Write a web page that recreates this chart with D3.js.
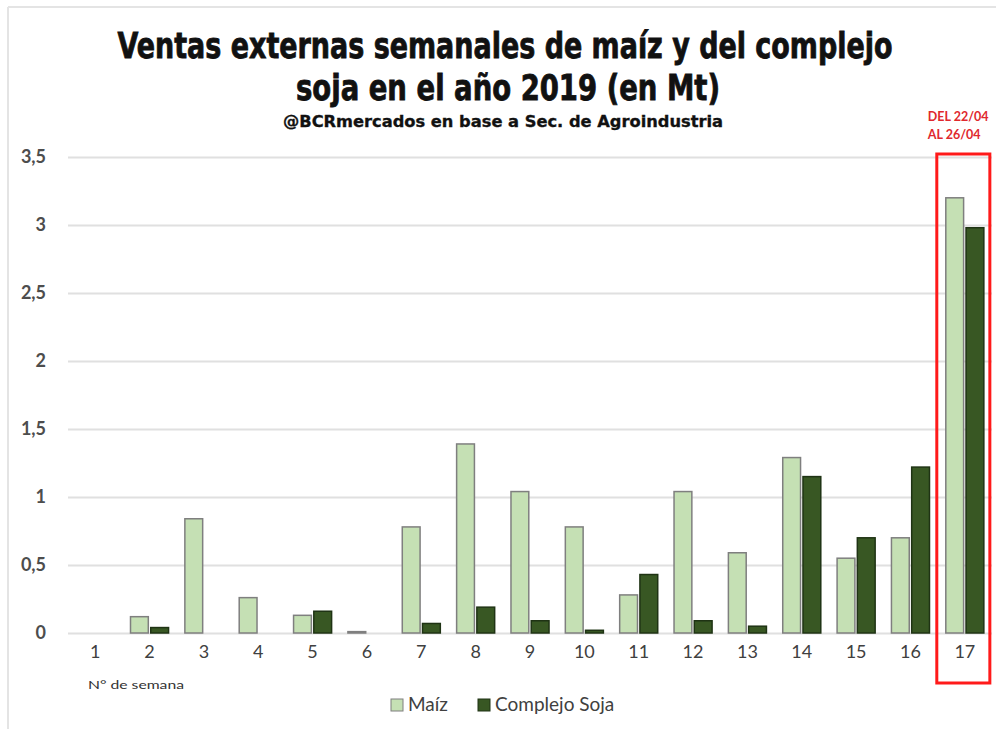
<!DOCTYPE html>
<html>
<head>
<meta charset="utf-8">
<script src="https://cdn.jsdelivr.net/npm/d3@7"></script>
<style>
  body { margin: 0; background: #fff; }
  svg { display: block; }
</style>
</head>
<body>
<div id="chart"></div>
<script>
// data
var weeks = ["1","2","3","4","5","6","7","8","9","10","11","12","13","14","15","16","17"]
var maiz  = [0, 0.12, 0.84, 0.26, 0.13, 0.01, 0.78, 1.39, 1.04, 0.78, 0.28, 1.04, 0.59, 1.29, 0.55, 0.70, 3.20]
var soja  = [0, 0.04, 0, 0, 0.16, 0, 0.07, 0.19, 0.09, 0.02, 0.43, 0.09, 0.05, 1.15, 0.70, 1.22, 2.98]
var seriesNames = ["Maíz", "Complejo Soja"]
var yTicks = [0, 0.5, 1, 1.5, 2, 2.5, 3, 3.5]

var width = 996,
    height = 729

var colors = ["#c5e0b4", "#385723"]
var strokes = ["#7f7f7f", "#1f3314"]

var svg = d3.select("#chart")
  .append("svg")
    .attr("width", width)
    .attr("height", height)

// faint frame at top and left
svg.append("line").attr("x1", 8).attr("x2", width).attr("y1", 7).attr("y2", 7)
  .attr("stroke", "#e4e4e4").attr("stroke-width", 2)
svg.append("line").attr("x1", 8).attr("x2", 8).attr("y1", 7).attr("y2", height)
  .attr("stroke", "#e4e4e4").attr("stroke-width", 2)

// title
var titleFont = "'Liberation Sans Narrow', 'DejaVu Sans Condensed', sans-serif"
svg.append("text")
  .attr("x", 505).attr("y", 58)
  .attr("text-anchor", "middle")
  .attr("textLength", 775).attr("lengthAdjust", "spacingAndGlyphs")
  .style("font-family", titleFont).style("font-weight", "bold").style("font-size", "36px")
  .style("fill", "#111").style("stroke", "#111").style("stroke-width", 0.8)
  .text("Ventas externas semanales de maíz y del complejo")
svg.append("text")
  .attr("x", 508).attr("y", 100)
  .attr("text-anchor", "middle")
  .attr("textLength", 424).attr("lengthAdjust", "spacingAndGlyphs")
  .style("font-family", titleFont).style("font-weight", "bold").style("font-size", "36px")
  .style("fill", "#111").style("stroke", "#111").style("stroke-width", 0.8)
  .text("soja en el año 2019 (en Mt)")
svg.append("text")
  .attr("x", 503).attr("y", 127)
  .attr("text-anchor", "middle")
  .attr("textLength", 440).attr("lengthAdjust", "spacingAndGlyphs")
  .style("font-family", titleFont).style("font-weight", "bold").style("font-size", "16px")
  .style("fill", "#111").style("stroke", "#111").style("stroke-width", 0.3)
  .text("@BCRmercados en base a Sec. de Agroindustria")

// scales
var x = d3.scaleBand()
  .domain(weeks)
  .range([68, 992])
  .paddingInner(0.3)
  .paddingOuter(0.15)

var x1 = d3.scaleBand()
  .domain([0, 1])
  .range([0, x.bandwidth()])
  .paddingInner(0.12)

var y = d3.scaleLinear()
  .domain([0, 3.5])
  .range([633, 157])

var labelFont = "Lato, 'Open Sans', sans-serif"

// gridlines + y labels
var yAxis = svg.append("g")
  .attr("transform", "translate(68,0)")
  .call(d3.axisLeft(y).tickValues(yTicks).tickSize(-924).tickPadding(22)
    .tickFormat(function(d){ return String(d).replace(".", ",") }))
yAxis.select(".domain").remove()
yAxis.selectAll(".tick line").attr("stroke", "#e0e0e0").attr("stroke-width", 2)
yAxis.selectAll(".tick text")
  .style("font-family", labelFont).style("font-weight", "bold").style("font-size", "18px")
  .attr("fill", "#4d4d4d")

// x labels
var xAxis = svg.append("g")
  .attr("transform", "translate(0,633)")
  .call(d3.axisBottom(x).tickSize(0).tickPadding(12))
xAxis.select(".domain").remove()
xAxis.selectAll(".tick text")
  .style("font-family", labelFont).style("font-size", "18px")
  .attr("fill", "#404040")

svg.append("text")
  .attr("x", 88).attr("y", 689)
  .attr("textLength", 96).attr("lengthAdjust", "spacingAndGlyphs")
  .style("font-family", labelFont).style("font-size", "12px")
  .attr("fill", "#333")
  .text("N° de semana")

// bars
var groups = svg.selectAll("g.week")
  .data(weeks)
  .enter()
  .append("g")
    .attr("class", "week")
    .attr("transform", function(d){ return "translate(" + x(d) + ",0)" })

groups.selectAll("rect")
  .data(function(d, i){ return [maiz[i], soja[i]] })
  .enter()
  .append("rect")
    .attr("x", function(d, j){ return x1(j) })
    .attr("width", x1.bandwidth())
    .attr("y", function(d){ return y(d) })
    .attr("height", function(d){ return y(0) - y(d) })
    .attr("fill", function(d, j){ return colors[j] })
    .attr("stroke", function(d, j){ return d > 0 ? strokes[j] : "none" })
    .attr("stroke-width", 1.5)

// highlight of the last week
var last = weeks[weeks.length - 1]
svg.append("rect")
  .attr("x", x(last) - 9).attr("y", 154)
  .attr("width", x.bandwidth() + 15).attr("height", 529)
  .attr("fill", "none")
  .attr("stroke", "#ff1a1a").attr("stroke-width", 3)

svg.append("text")
  .attr("x", x(last) - 18).attr("y", 121)
  .style("font-family", labelFont).style("font-weight", "bold").style("font-size", "12.5px")
  .attr("fill", "#e0282e")
  .text("DEL 22/04")
svg.append("text")
  .attr("x", x(last) - 18).attr("y", 139)
  .style("font-family", labelFont).style("font-weight", "bold").style("font-size", "12.5px")
  .attr("fill", "#e0282e")
  .text("AL 26/04")

// legend
var legend = svg.selectAll("g.legend")
  .data(seriesNames)
  .enter()
  .append("g")
    .attr("class", "legend")
    .attr("transform", function(d, i){ return "translate(" + [391, 478][i] + ",699)" })
legend.append("rect")
  .attr("width", 12).attr("height", 12)
  .attr("fill", function(d, i){ return colors[i] })
  .attr("stroke", function(d, i){ return strokes[i] })
  .attr("stroke-width", 1)
legend.append("text")
  .attr("x", 17).attr("y", 12)
  .style("font-family", labelFont).style("font-size", "19px")
  .attr("fill", "#404040")
  .text(function(d){ return d })
</script>
</body>
</html>
